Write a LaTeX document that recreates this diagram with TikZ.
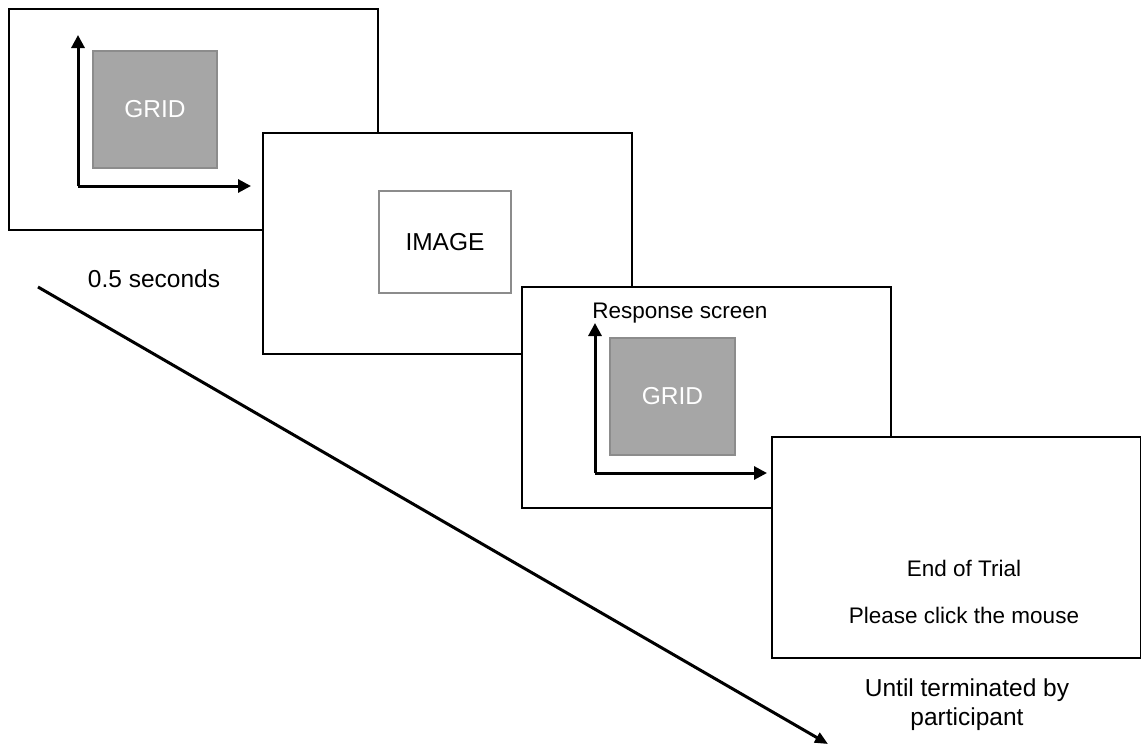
\documentclass[tikz,border=0pt]{standalone}
\usepackage{fontspec}
\setmainfont{Liberation Sans}
\usetikzlibrary{arrows.meta}

\definecolor{gridfill}{HTML}{A6A6A6}
\definecolor{gridline}{HTML}{8C8C8C}

\begin{document}
\begin{tikzpicture}[x=1pt,y=-1pt]
    \useasboundingbox (0,0) rectangle (1141,747);

    \begin{scope}[every node/.style={rectangle,draw=black,line width=2pt,fill=white,
        inner sep=0pt,outer sep=0pt,minimum width=369pt,minimum height=221pt}]
      \node (s1) at (193,119) {};
      \node (s2) at (447.5,243.5) {};
      \node (s3) at (706,397.5) {};
      \node (s4) at (956.5,547.5) {};
    \end{scope}

    \begin{scope}[every node/.style={rectangle,draw=gridline,line width=2pt,
        inner sep=0pt,outer sep=0pt,font=\fontsize{24.5}{29}\selectfont}]
      \node[fill=gridfill,text=white,minimum width=124pt,minimum height=117pt] (g1) at (155,109.5) {GRID};
      \node[fill=white,minimum width=132pt,minimum height=102pt] (img) at (445,242) {IMAGE};
      \node[fill=gridfill,text=white,minimum width=125pt,minimum height=117pt] (g3) at (672.5,396.5) {GRID};
    \end{scope}

    \coordinate (o1) at (78,186);
    \coordinate (y1) at (78,35);
    \coordinate (x1) at (251,186);
    \coordinate (o3) at (595,473);
    \coordinate (y3) at (595,323);
    \coordinate (x3) at (767,473);
    \coordinate (t0) at (38,287);
    \coordinate (t1) at (828,744);

    \begin{scope}[>={Triangle[length=13pt,width=13pt]},line width=3pt]
      \draw [->] (o1) -- (y1);
      \draw [->] (o1) -- (x1);
      \draw [->] (o3) -- (y3);
      \draw [->] (o3) -- (x3);
      \draw [->,>={Triangle[length=13pt,width=11pt]}] (t0) -- (t1);
    \end{scope}

    \begin{scope}[every node/.style={anchor=base,inner sep=0pt,font=\fontsize{24.5}{29}\selectfont}]
      \node (d1) at (154,287) {0.5 seconds};
      \node (d4a) at (967,696) {Until terminated by};
      \node (d4b) at (967,725) {participant};
    \end{scope}

    \begin{scope}[every node/.style={anchor=base,inner sep=0pt,font=\fontsize{22.5}{27}\selectfont}]
      \node (resp) at (680,318) {Response screen};
      \node (end) at (964,576) {End of Trial};
      \node (click) at (964,623) {Please click the mouse};
    \end{scope}
\end{tikzpicture}
\end{document}
